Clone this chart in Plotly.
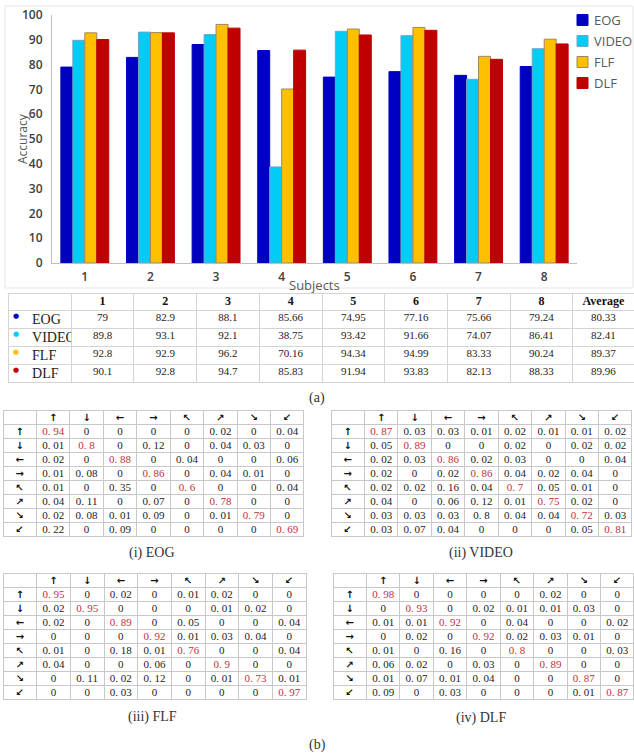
import plotly.graph_objects as go

# ---------------- data ----------------
subjects = ["1", "2", "3", "4", "5", "6", "7", "8"]
methods = ["EOG", "VIDEO", "FLF", "DLF"]
eog = [79, 82.9, 88.1, 85.66, 74.95, 77.16, 75.66, 79.24]
video = [89.8, 93.1, 92.1, 38.75, 93.42, 91.66, 74.07, 86.41]
flf = [92.8, 92.9, 96.2, 70.16, 94.34, 94.99, 83.33, 90.24]
dlf = [90.1, 92.8, 94.7, 85.83, 91.94, 93.83, 82.13, 88.33]
averages = [80.33, 82.41, 89.37, 89.96]

directions = ["↑", "↓", "←", "→", "↖", "↗", "↘", "↙"]

cm_eog = [
    [0.94, 0, 0, 0, 0, 0.02, 0, 0.04],
    [0.01, 0.8, 0, 0.12, 0, 0.04, 0.03, 0],
    [0.02, 0, 0.88, 0, 0.04, 0, 0, 0.06],
    [0.01, 0.08, 0, 0.86, 0, 0.04, 0.01, 0],
    [0.01, 0, 0.35, 0, 0.6, 0, 0, 0.04],
    [0.04, 0.11, 0, 0.07, 0, 0.78, 0, 0],
    [0.02, 0.08, 0.01, 0.09, 0, 0.01, 0.79, 0],
    [0.22, 0, 0.09, 0, 0, 0, 0, 0.69],
]
cm_video = [
    [0.87, 0.03, 0.03, 0.01, 0.02, 0.01, 0.01, 0.02],
    [0.05, 0.89, 0, 0, 0.02, 0, 0.02, 0.02],
    [0.02, 0.03, 0.86, 0.02, 0.03, 0, 0, 0.04],
    [0.02, 0, 0.02, 0.86, 0.04, 0.02, 0.04, 0],
    [0.02, 0.02, 0.16, 0.04, 0.7, 0.05, 0.01, 0],
    [0.04, 0, 0.06, 0.12, 0.01, 0.75, 0.02, 0],
    [0.03, 0.03, 0.03, 0.8, 0.04, 0.04, 0.72, 0.03],
    [0.03, 0.07, 0.04, 0, 0, 0, 0.05, 0.81],
]
cm_flf = [
    [0.95, 0, 0.02, 0, 0.01, 0.02, 0, 0],
    [0.02, 0.95, 0, 0, 0, 0.01, 0.02, 0],
    [0.02, 0, 0.89, 0, 0.05, 0, 0, 0.04],
    [0, 0, 0, 0.92, 0.01, 0.03, 0.04, 0],
    [0.01, 0, 0.18, 0.01, 0.76, 0, 0, 0.04],
    [0.04, 0, 0, 0.06, 0, 0.9, 0, 0],
    [0, 0.11, 0.02, 0.12, 0, 0.01, 0.73, 0.01],
    [0, 0, 0.03, 0, 0, 0, 0, 0.97],
]
cm_dlf = [
    [0.98, 0, 0, 0, 0, 0.02, 0, 0],
    [0, 0.93, 0, 0.02, 0.01, 0.01, 0.03, 0],
    [0.01, 0.01, 0.92, 0, 0.04, 0, 0, 0.02],
    [0, 0.02, 0, 0.92, 0.02, 0.03, 0.01, 0],
    [0.01, 0, 0.16, 0, 0.8, 0, 0, 0.03],
    [0.06, 0.02, 0, 0.03, 0, 0.89, 0, 0],
    [0.01, 0.07, 0.01, 0.04, 0, 0, 0.87, 0],
    [0.09, 0, 0.03, 0, 0, 0, 0.01, 0.87],
]

colors = ["#0000c0", "#00ccf5", "#ffc000", "#c00000"]
outlines = ["#0000c0", "#6fa8bf", "#9a8a5a", "#c00000"]

W, H = 634, 756
NBSP = "\u00a0"
CLEAR = "rgba(0,0,0,0)"


def fx(p):
    return p / W


def fy(p):
    return 1 - p / H


fig = go.Figure()

# ---------------- bar chart ----------------
for name, vals, c, oc in zip(methods, [eog, video, flf, dlf], colors, outlines):
    fig.add_trace(go.Bar(
        x=subjects, y=vals, name=name, showlegend=False,
        marker=dict(color=c, line=dict(color=oc, width=1)),
    ))

fig.update_layout(
    width=W, height=H,
    margin=dict(l=0, r=0, t=0, b=0, autoexpand=False),
    paper_bgcolor="white", plot_bgcolor="white",
    barmode="group", bargap=0.27, bargroupgap=0,
    xaxis=dict(domain=[fx(52), fx(577)], showgrid=False, showline=True,
               linecolor="#bfbfbf", linewidth=1, ticks="",
               tickfont=dict(family="Open Sans", size=12, color="#404040", weight=600),
               ticklabelstandoff=3, fixedrange=True),
    yaxis=dict(domain=[fy(263), fy(15)], range=[0, 100], dtick=10,
               showgrid=False, showline=True, linecolor="#bfbfbf", linewidth=1,
               ticks="", tickfont=dict(family="Open Sans", size=12, color="#404040", weight=600),
               ticklabelstandoff=6, zeroline=False),
    showlegend=False,
)

annotations = [
    dict(text="Accuracy", x=fx(23), y=fy(139), xref="paper", yref="paper",
         xanchor="center", yanchor="middle",
         textangle=-90, showarrow=False,
         font=dict(family="Open Sans", size=12, color="#595959")),
    dict(text="Subjects", x=fx(314), y=fy(285), xref="paper", yref="paper",
         xanchor="center", yanchor="middle",
         showarrow=False, font=dict(family="Open Sans", size=13, color="#595959")),
]

# legend (swatch + label) to the right of the plot, as in the original
for k, (m, c, oc) in enumerate(zip(methods, colors, outlines)):
    yc = 20 + 21 * k
    fig.add_shape(type="rect", xref="paper", yref="paper",
                  x0=fx(577), x1=fx(588), y0=fy(yc + 5.5), y1=fy(yc - 5.5),
                  fillcolor=c, line=dict(color=oc, width=1))
    annotations.append(dict(text=m, x=fx(592), y=fy(yc), xref="paper", yref="paper",
                            xanchor="left", yanchor="middle", showarrow=False,
                            font=dict(family="Open Sans", size=13, color="#595959")))


def add_table(x0, x1, top, grid_widths, text_widths, header_vals, cell_cols,
              hdr_h, row_h, hdr_font, cell_font, align, line_color, shift):
    """Grid layer (lines only) plus a text layer lifted by `shift` px so the
    text sits in the middle of the short rows."""
    nrow = len(cell_cols[0])
    total = hdr_h + nrow * row_h + 2
    ng = len(grid_widths)
    fig.add_trace(go.Table(
        domain=dict(x=[fx(x0), fx(x1)], y=[fy(top + total), fy(top)]),
        columnwidth=grid_widths,
        header=dict(values=[""] * ng, height=hdr_h, fill_color="white",
                    line=dict(color=line_color, width=1)),
        cells=dict(values=[[""] * nrow for _ in range(ng)], height=row_h,
                   fill_color="white", line=dict(color=line_color, width=1)),
    ))
    fig.add_trace(go.Table(
        domain=dict(x=[fx(x0), fx(x1)], y=[fy(top - shift + total), fy(top - shift)]),
        columnwidth=text_widths,
        header=dict(values=header_vals, height=hdr_h, fill_color=CLEAR,
                    line=dict(color=CLEAR, width=0), font=hdr_font, align="center"),
        cells=dict(values=cell_cols, height=row_h, fill_color=CLEAR,
                   line=dict(color=CLEAR, width=0), font=cell_font, align=align),
    ))


# ---------------- accuracy table ----------------
TBL_TOP = 293
HDR_H = 17
ROW_H = 18
acc_cols = []
for i in range(len(subjects)):
    acc_cols.append([f"{v:g}" for v in (eog[i], video[i], flf[i], dlf[i])])
acc_cols.append([f"{v:.2f}" for v in averages])
bullets = ["●"] * len(methods)

add_table(
    8, 634, TBL_TOP,
    [63] + [62.5] * 8 + [61],
    [16, 47] + [62.5] * 8 + [61],
    ["", ""] + subjects + ["Average"],
    [bullets, methods] + acc_cols, HDR_H, ROW_H,
    dict(family="Liberation Serif", size=12, color="#111111", weight="bold"),
    dict(family=["DejaVu Sans"] + ["Liberation Serif"] * 10,
         size=[7, 14] + [11] * 9,
         color=[colors] + [["#222222"] * 4] * 10),
    ["center", "left"] + ["center"] * 9, "#d4d4d4", 5,
)


def fmt(v):
    if v == 0:
        return "0"
    return f"{v:g}".replace(".", "." + NBSP)


def add_cm(cm, x0, x1, ytop):
    n = len(directions)
    cols = [directions]
    colors_cols = [["#111111"] * n]
    for j in range(n):
        cols.append([fmt(cm[i][j]) for i in range(n)])
        colors_cols.append(["#c0303c" if i == j else "#222222" for i in range(n)])
    add_table(
        x0, x1, ytop, [1] * 9, [1] * 9, [""] + directions, cols, 14, 14,
        dict(family="DejaVu Sans", size=10, color="#111111", weight="bold"),
        dict(family=["DejaVu Sans"] + ["Liberation Serif"] * 8,
             size=[10] + [11] * 8, color=colors_cols,
             weight=["bold"] + ["normal"] * 8),
        "center", "#c8c8c8", 5,
    )


add_cm(cm_eog, 3, 304, 410)
add_cm(cm_video, 331, 632, 410)
add_cm(cm_flf, 3, 306, 573)
add_cm(cm_dlf, 333, 634, 573)

captions = [
    ("(a)", 317, 398),
    ("(i) EOG", 152, 553),
    ("(ii) VIDEO", 481, 553),
    ("(iii) FLF", 152, 717),
    ("(iv) DLF", 481, 718),
    ("(b)", 317, 745),
]
for t, x, y in captions:
    annotations.append(dict(text=t, x=fx(x), y=fy(y), xref="paper", yref="paper",
                            xanchor="center", yanchor="middle", showarrow=False,
                            font=dict(family="Liberation Serif", size=14, color="#333333")))

fig.update_layout(annotations=annotations)

# faint chart border like the original
fig.add_shape(type="rect", xref="paper", yref="paper",
              x0=fx(5), x1=fx(633), y0=fy(288), y1=fy(6),
              line=dict(color="#e6e6e6", width=1))

fig.write_html("out.html", config={"displayModeBar": False},
               post_script="document.body.style.margin='0px';document.body.style.overflow='hidden';")
